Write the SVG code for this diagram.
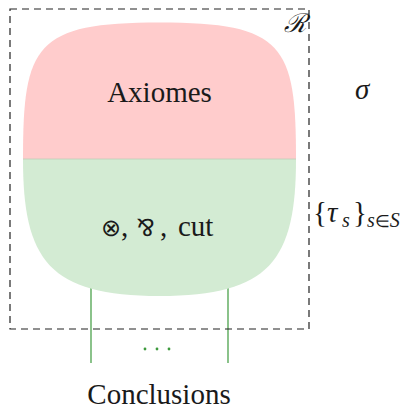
<svg xmlns="http://www.w3.org/2000/svg" width="410" height="409" viewBox="0 0 410 409">
<style>
.wire{stroke:#3d9a3d;stroke-width:1.2;fill:none}
.dot{fill:#3d9a3d}
.frame{fill:none;stroke:#222;stroke-width:1.2;stroke-dasharray:7 5}
text{fill:#1a1a1a}
</style>
<g id="connectors">
<line class="wire" x1="91" y1="280" x2="91" y2="363"/>
<line class="wire" x1="228" y1="280" x2="228" y2="363"/>
<circle class="dot" cx="145" cy="349" r="1.4"/><circle class="dot" cx="157" cy="349" r="1.4"/><circle class="dot" cx="169" cy="349" r="1.4"/>
</g>
<g font-family="Liberation Serif">
<g id="axiomes">
<path d="M23,159 C23,45 35,22.5 159.5,22.5 C284,22.5 296,45 296,159 Z" fill="#ffcccc"/>
<text x="159.5" y="102" font-size="29" text-anchor="middle">Axiomes</text>
</g>
<g id="rules">
<path d="M23,159 L296,159 C296,260 270,296 159.5,296 C49,296 23,260 23,159 Z" fill="#d3ebd3"/>
<line x1="23" y1="159" x2="296" y2="159" stroke="#bfcdb8" stroke-width="0.8"/>
<text x="101" y="236" font-size="24">⊗</text>
<text x="121" y="236" font-size="29">,</text>
<text x="137" y="236" font-size="24">⅋</text>
<text x="160" y="236" font-size="29">,</text>
<text x="178" y="236" font-size="29">cut</text>
</g>
<g id="frame">
<rect class="frame" x="10" y="9" width="299" height="320"/>
<text x="284" y="32" font-size="26" font-style="italic">ℛ</text>
</g>
<g id="labels">
<text x="355" y="99" font-size="29" font-style="italic">σ</text>
<text y="222" font-size="29"><tspan x="313">{</tspan><tspan x="327" font-style="italic">τ</tspan><tspan x="342" y="227" font-size="20" font-style="italic">s</tspan><tspan x="353" y="222">}</tspan><tspan x="367" y="227" font-size="20" font-style="italic">s</tspan><tspan font-size="17" y="227">∈</tspan><tspan font-size="20" font-style="italic" y="227">S</tspan></text>
<text x="159" y="404" font-size="29" text-anchor="middle">Conclusions</text>
</g>
</g>
</svg>
